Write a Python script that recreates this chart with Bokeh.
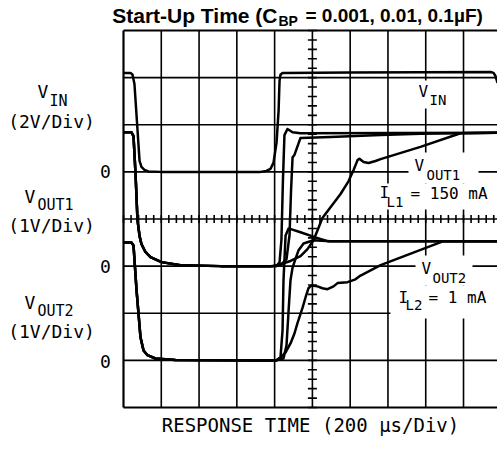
import numpy as np
from bokeh.plotting import figure
from bokeh.models import Range1d, Label
from bokeh.embed import file_html
from bokeh.resources import INLINE

# ---------------- data (time in microseconds, voltage in volts) ----------------
US_PER_DIV = 200.0
VIN_V_PER_DIV = 2.0
VOUT_V_PER_DIV = 1.0
VIN_ZERO_DIV = 5
VOUT1_ZERO_DIV = 3
VOUT2_ZERO_DIV = 1
X_DIVS = list(range(0, 10))      # vertical graticule lines
Y_DIVS = list(range(0, 9))       # horizontal graticule lines

vin_t = [0, 37, 48, 58, 71, 85, 95, 111, 132, 196, 725, 757, 778, 794, 810, 821, 826, 831, 842, 1202, 1943, 1959, 1969, 1980]
vin_v = [4.20, 4.20, 4.12, 3.73, 2.16, 0.47, 0.21, 0.08, 0.02, 0.0, 0.0, 0.04, 0.13, 0.38, 1.23, 2.59, 3.86, 4.12, 4.20, 4.22, 4.24, 4.20, 4.07, 3.78]

# VOUT1 (IL1 = 150 mA): discharge common to all CBP values
vout1_off_t = [0, 42, 53, 64, 74, 85, 95, 116, 143, 201, 302, 514, 778]
vout1_off_v = [2.84, 2.84, 2.76, 1.93, 0.98, 0.64, 0.47, 0.30, 0.19, 0.085, 0.02, 0.0, 0.0]
# start-up for CBP = 0.001, 0.01, 0.1 uF
vout1_001_t = [778, 810, 826, 836, 844, 852, 868, 895, 937, 1980]
vout1_001_v = [0, 0, 0.08, 0.55, 1.82, 2.78, 2.91, 2.84, 2.82, 2.83]
vout1_01_t = [778, 831, 863, 879, 887, 895, 905, 937, 1096, 1361, 1572, 1980]
vout1_01_v = [0, 0.02, 0.15, 0.66, 1.61, 2.31, 2.36, 2.72, 2.74, 2.78, 2.81, 2.83]
vout1_1_t = [778, 789, 831, 884, 937, 974, 1006, 1032, 1053, 1096, 1149, 1191, 1218, 1239, 1249, 1271, 1297, 1334, 1361, 1572, 1784, 1980]
vout1_1_v = [0, 0, 0.04, 0.11, 0.21, 0.36, 0.55, 0.81, 1.02, 1.25, 1.53, 1.80, 2.04, 2.25, 2.28, 2.21, 2.19, 2.23, 2.27, 2.53, 2.82, 2.83]

# VOUT2 (IL2 = 1 mA)
vout2_off_t = [0, 42, 53, 69, 90, 106, 127, 169, 275, 514, 804]
vout2_off_v = [2.50, 2.50, 2.44, 1.49, 0.49, 0.21, 0.11, 0.04, 0.01, 0.0, 0.0]
vout2_001_t = [804, 810, 831, 842, 847, 858, 874, 937, 1016, 1080, 1980]
vout2_001_v = [0, 0, 0.06, 0.64, 1.70, 2.65, 2.80, 2.72, 2.61, 2.53, 2.53]
vout2_01_t = [804, 847, 863, 874, 884, 895, 911, 926, 953, 1006, 1096, 1980]
vout2_01_v = [0, 0.04, 0.32, 1.06, 1.70, 1.97, 2.16, 2.33, 2.48, 2.55, 2.53, 2.53]
vout2_1_t = [804, 810, 831, 858, 884, 905, 921, 948, 964, 979, 995, 1027, 1053, 1080, 1112, 1133, 1186, 1228, 1255, 1361, 1694, 1980]
vout2_1_v = [0, 0, 0.06, 0.17, 0.36, 0.57, 0.79, 1.12, 1.34, 1.53, 1.59, 1.57, 1.53, 1.51, 1.57, 1.64, 1.66, 1.72, 1.80, 2.02, 2.53, 2.53]

# ---------------- figure: frame covers whole canvas, graticule drawn as glyphs ----------------
W, H = 497, 451
GX0, GY0 = 123.0, 407.0          # page pixel of graticule origin (left, bottom)
PX_PER_XDIV, PX_PER_YDIV = 37.78, 47.125

def px2x(px):
    return (px - GX0) / PX_PER_XDIV

def py2y(py):
    return (GY0 - py) / PX_PER_YDIV

XMAX = px2x(W)
p = figure(width=W, height=H, x_range=Range1d(px2x(0), XMAX), y_range=Range1d(py2y(H), py2y(0)),
           output_backend="svg", toolbar_location=None,
           x_axis_location=None, y_axis_location=None,
           min_border=0)
p.grid.visible = False
p.background_fill_color = "white"
p.border_fill_color = "white"
p.outline_line_color = None

# graticule
p.segment(x0=X_DIVS[1:], y0=[0] * (len(X_DIVS) - 1), x1=X_DIVS[1:], y1=[8] * (len(X_DIVS) - 1),
          line_color="black", line_width=1.6)
p.segment(x0=[0] * (len(Y_DIVS) - 2), y0=Y_DIVS[1:-1], x1=[XMAX] * (len(Y_DIVS) - 2), y1=Y_DIVS[1:-1],
          line_color="black", line_width=1.6)
# frame edges
p.segment(x0=[0, 0, 0], y0=[0, 0, 8], x1=[0, XMAX, XMAX], y1=[8, 0, 8],
          line_color="black", line_width=2.2)

# white boxes behind in-plot labels
boxes = [(413, 458, 80, 108), (408, 478, 152, 183), (376, 497, 183, 209),
         (415, 472, 255, 285), (390, 497, 285, 318)]
p.quad(left=[px2x(b[0]) for b in boxes], right=[px2x(b[1]) for b in boxes],
       top=[py2y(b[2]) for b in boxes], bottom=[py2y(b[3]) for b in boxes],
       fill_color="white", line_color=None)

# centre graticule ticks
minor_y = np.arange(0, 8.01, 0.2)
minor_x = np.arange(0, XMAX, 0.2)
p.scatter(x=[5.0] * len(minor_y), y=minor_y, marker="dash", size=9, angle=0,
          line_color="black", line_width=1.6)
p.scatter(x=minor_x, y=[4.0] * len(minor_x), marker="dash", size=8, angle=np.pi / 2,
          line_color="black", line_width=1.6)

def tx(t):
    return np.array(t) / US_PER_DIV

LW = 2.5
p.line(tx(vin_t), VIN_ZERO_DIV + np.array(vin_v) / VIN_V_PER_DIV, line_color="black", line_width=LW, line_join="round")
for t_on, v_on in [(vout1_001_t, vout1_001_v), (vout1_01_t, vout1_01_v), (vout1_1_t, vout1_1_v)]:
    t = vout1_off_t + t_on
    v = vout1_off_v + v_on
    p.line(tx(t), VOUT1_ZERO_DIV + np.array(v) / VOUT_V_PER_DIV, line_color="black", line_width=LW, line_join="round")
for t_on, v_on in [(vout2_001_t, vout2_001_v), (vout2_01_t, vout2_01_v), (vout2_1_t, vout2_1_v)]:
    t = vout2_off_t + t_on
    v = vout2_off_v + v_on
    p.line(tx(t), VOUT2_ZERO_DIV + np.array(v) / VOUT_V_PER_DIV, line_color="black", line_width=LW, line_join="round")

# ---------------- text ----------------
MONO = "DejaVu Sans Mono"

def lab(text, px, py, size, align="left", font=MONO, style="normal"):
    p.add_layout(Label(x=px2x(px), y=py2y(py), text=text, text_font=font,
                       text_font_size=f"{size}px", text_align=align,
                       text_baseline="middle", text_color="black", text_font_style=style))

# title
TF = "Liberation Sans"
lab("Start-Up Time (C", 277, 15, 21, "right", TF, "bold")
lab("BP", 278, 20, 14, "left", TF, "bold")
lab("= 0.001, 0.01, 0.1µF)", 305, 15, 19, "left", TF, "bold")

# left side
lab("V", 37, 91, 18)
lab("IN", 49, 100, 15)
lab("(2V/Div)", 51, 121, 18, "center")
lab("0", 105, 171, 18, "center")
lab("V", 24, 196, 18)
lab("OUT1", 37, 204, 15)
lab("(1V/Div)", 51, 225, 18, "center")
lab("0", 105, 266, 18, "center")
lab("V", 24, 302, 18)
lab("OUT2", 37, 310, 15)
lab("(1V/Div)", 51, 331, 18, "center")
lab("0", 105, 361, 18, "center")

# in-plot
lab("V", 418, 91, 16)
lab("IN", 429, 99, 14)
lab("V", 414, 165, 16)
lab("OUT1", 426, 174, 14)
lab("I", 379, 192, 16)
lab("L1", 386, 201, 14)
lab("= 150 mA", 410, 193, 16)
lab("V", 421, 268, 16)
lab("OUT2", 432, 277, 14)
lab("I", 398, 297, 16)
lab("L2", 405, 304, 14)
lab("= 1 mA", 428, 297, 16)

# x label
lab("RESPONSE TIME (200 µs/Div)", 310, 424, 19, "center")

open("out.html", "w").write(file_html(p, INLINE))
